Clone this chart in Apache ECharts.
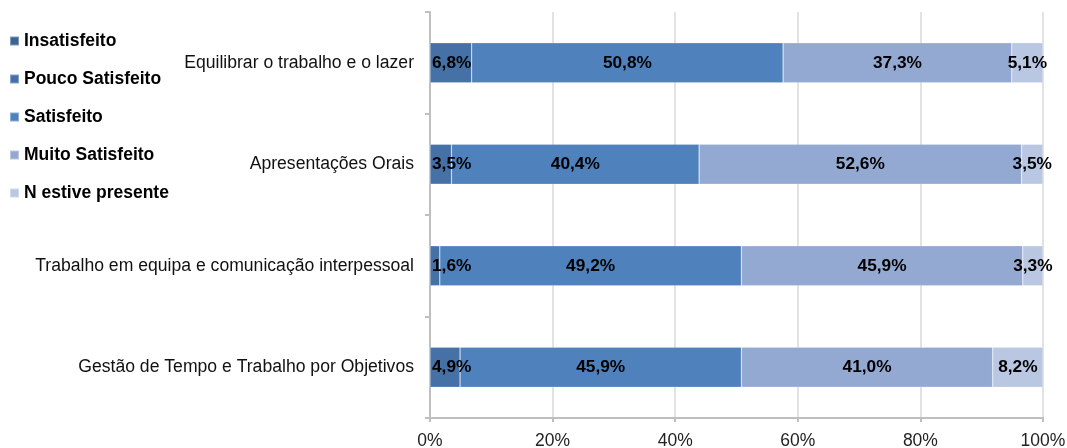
<!DOCTYPE html>
<html>
<head>
<meta charset="utf-8">
<script src="https://cdn.jsdelivr.net/npm/echarts@6/dist/echarts.min.js"></script>
<style>html,body{margin:0;padding:0;background:#fff;}#c{width:1067px;height:448px;}</style>
</head>
<body>
<div id="c"></div>
<script>
// Categories listed bottom-to-top (ECharts category y-axis starts at bottom)
var categories = [
  'Gestão de Tempo e Trabalho por Objetivos',
  'Trabalho em equipa e comunicação interpessoal',
  'Apresentações Orais',
  'Equilibrar o trabalho e o lazer'
];
var seriesNames = ['Insatisfeito', 'Pouco Satisfeito', 'Satisfeito', 'Muito Satisfeito', 'N estive presente'];
var insatisfeito = [0, 0, 0, 0];
var poucoSatisfeito = [4.9, 1.6, 3.5, 6.8];
var satisfeito = [45.9, 49.2, 40.4, 50.8];
var muitoSatisfeito = [41.0, 45.9, 52.6, 37.3];
var nEstivePresente = [8.2, 3.3, 3.5, 5.1];
var xTicks = [0, 20, 40, 60, 80, 100];

var colors = ['#3b6494', '#4671a7', '#4f81bd', '#94a9d2', '#b9c7e3'];
var dataSets = [insatisfeito, poucoSatisfeito, satisfeito, muitoSatisfeito, nEstivePresente];
var FONT = 'Liberation Sans, Arial, sans-serif';

function fmt(p) {
  if (!p.value) return '';
  return p.value.toFixed(1).replace('.', ',') + '%';
}

var series = dataSets.map(function (d, i) {
  return {
    name: seriesNames[i],
    type: 'bar',
    stack: 'total',
    barWidth: 40,
    data: d,
    itemStyle: { color: colors[i], borderColor: 'rgba(255,255,255,0.35)', borderWidth: 0.6 },
    label: {
      show: true,
      position: i === 1 ? 'insideLeft' : 'inside',
      distance: 2,
      formatter: fmt,
      color: '#000',
      fontWeight: 'bold',
      fontSize: 17.3,
      fontFamily: FONT
    },
    emphasis: { disabled: true }
  };
});

var chart = echarts.init(document.getElementById('c'), null, { renderer: 'canvas' });
chart.setOption({
  animation: false,
  color: colors,
  grid: { left: 430, right: 24, top: 12, bottom: 30, containLabel: false, outerBoundsMode: 'none' },
  legend: {
    orient: 'vertical',
    left: 9,
    top: 32,
    padding: 0,
    itemWidth: 9,
    itemHeight: 9,
    itemGap: 20,
    icon: 'rect',
    data: seriesNames,
    textStyle: { color: '#000', fontWeight: 'bold', fontSize: 17.5, fontFamily: FONT }
  },
  xAxis: {
    type: 'value',
    min: 0,
    max: 100,
    interval: 20,
    axisLine: { show: true, lineStyle: { color: '#bfbfbf', width: 2 } },
    axisTick: { show: true, length: 4, lineStyle: { color: '#bfbfbf', width: 2 } },
    splitLine: { show: true, lineStyle: { color: '#d9d9d9', width: 1.5 } },
    axisLabel: {
      margin: 14,
      color: '#222',
      fontSize: 17.5,
      fontFamily: FONT,
      formatter: function (v) { return v + '%'; }
    }
  },
  yAxis: {
    type: 'category',
    data: categories,
    axisLine: { show: true, lineStyle: { color: '#bfbfbf', width: 2 } },
    axisTick: { show: true, length: 5, lineStyle: { color: '#bfbfbf', width: 2 } },
    axisLabel: { margin: 16, color: '#111', fontSize: 17.6, fontFamily: FONT }
  },
  series: series
});
</script>
</body>
</html>
